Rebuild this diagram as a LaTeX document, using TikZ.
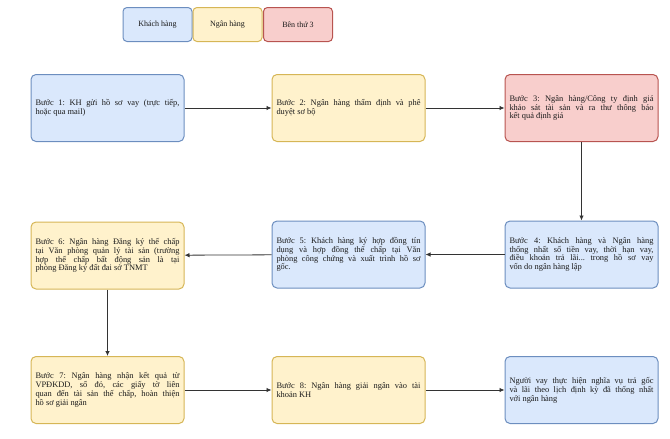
\documentclass[tikz,border=0pt]{standalone}
\usepackage{fontspec}
\setmainfont{Liberation Serif}
\usetikzlibrary{arrows.meta}
\definecolor{bfill}{HTML}{DAE8FC}\definecolor{bdraw}{HTML}{6C8EBF}
\definecolor{yfill}{HTML}{FFF2CC}\definecolor{ydraw}{HTML}{D6B656}
\definecolor{rfill}{HTML}{F8CECC}\definecolor{rdraw}{HTML}{B85450}
\definecolor{txt}{HTML}{1A1A1A}
\tolerance=10000
\hbadness=10000
\frenchspacing
\tikzset{
  box/.style={rectangle, rounded corners=5pt, line width=1pt, minimum width=153pt, minimum height=67pt,
    text width=144pt, inner xsep=4.5pt, align=justify, text=txt,
    font=\fontsize{8.4}{8.9}\selectfont},
  legend/.style={rectangle, rounded corners=4pt, line width=1pt, minimum width=69pt, minimum height=34pt,
    text=txt, font=\fontsize{8}{9}\selectfont},
  kh/.style={fill=bfill, draw=bdraw},
  nh/.style={fill=yfill, draw=ydraw},
  bt/.style={fill=rfill, draw=rdraw},
  conn/.style={draw=black!80, line width=0.8pt, -{Latex[length=5pt,width=4.5pt]}}
}
\begin{document}
\begin{tikzpicture}[x=1pt,y=-1pt]
\useasboundingbox (0,0) rectangle (670,439);
\node[legend,kh] (lkh) at (157.5,24.5) {Khách hàng};
\node[legend,nh] (lnh) at (227.5,24.5) {Ngân hàng};
\node[legend,bt] (lbt) at (298,24.5) {Bên thứ 3};

\node[box,kh] (s1) at (107.5,108) {Bước 1: KH gửi hồ sơ vay (trực tiếp,\linebreak hoặc qua mail)};
\node[box,nh] (s2) at (348.5,108) {Bước 2: Ngân hàng thẩm định và phê\linebreak duyệt sơ bộ};
\node[box,bt] (s3) at (581.5,108) {Bước 3: Ngân hàng/Công ty định giá\linebreak khảo sát tài sản và ra thư thông báo\linebreak kết quả định giá};

\node[box,kh] (s4) at (581.5,254.5) {Bước 4: Khách hàng và Ngân hàng\linebreak thống nhất số tiền vay, thời hạn vay,\linebreak điều khoản trả lãi... trong hồ sơ vay\linebreak vốn do ngân hàng lập};
\node[box,kh] (s5) at (348.5,254.5) {Bước 5: Khách hàng ký hợp đồng tín\linebreak dụng và hợp đồng thế chấp tại Văn\linebreak phòng công chứng và xuất trình hồ sơ\linebreak gốc.};
\node[box,nh] (s6) at (107.5,255.5) {Bước 6: Ngân hàng Đăng ký thế chấp\linebreak tại Văn phòng quản lý tài sản (trường\linebreak hợp thế chấp bất động sản là tại\linebreak phòng Đăng ký đất đai sở TNMT};

\node[box,nh] (s7) at (107.5,390) {Bước 7: Ngân hàng nhận kết quả từ\linebreak VPĐKDD, sổ đỏ, các giấy tờ liên\linebreak quan đến tài sản thế chấp, hoàn thiện\linebreak hồ sơ giải ngân};
\node[box,nh] (s8) at (348.5,390) {Bước 8: Ngân hàng giải ngân vào tài\linebreak khoản KH};
\node[box,kh] (s9) at (581.5,390) {Người vay thực hiện nghĩa vụ trả gốc\linebreak và lãi theo lịch định kỳ đã thống nhất\linebreak với ngân hàng};

\draw[conn] (s1) -- (s2);
\draw[conn] (s2) -- (s3);
\draw[conn] (s3) -- (s4);
\draw[conn] (s4) -- (s5);
\draw[conn] (s5) -- (s6);
\draw[conn] (s6) -- (s7);
\draw[conn] (s7) -- (s8);
\draw[conn] (s8) -- (s9);
\end{tikzpicture}
\end{document}
